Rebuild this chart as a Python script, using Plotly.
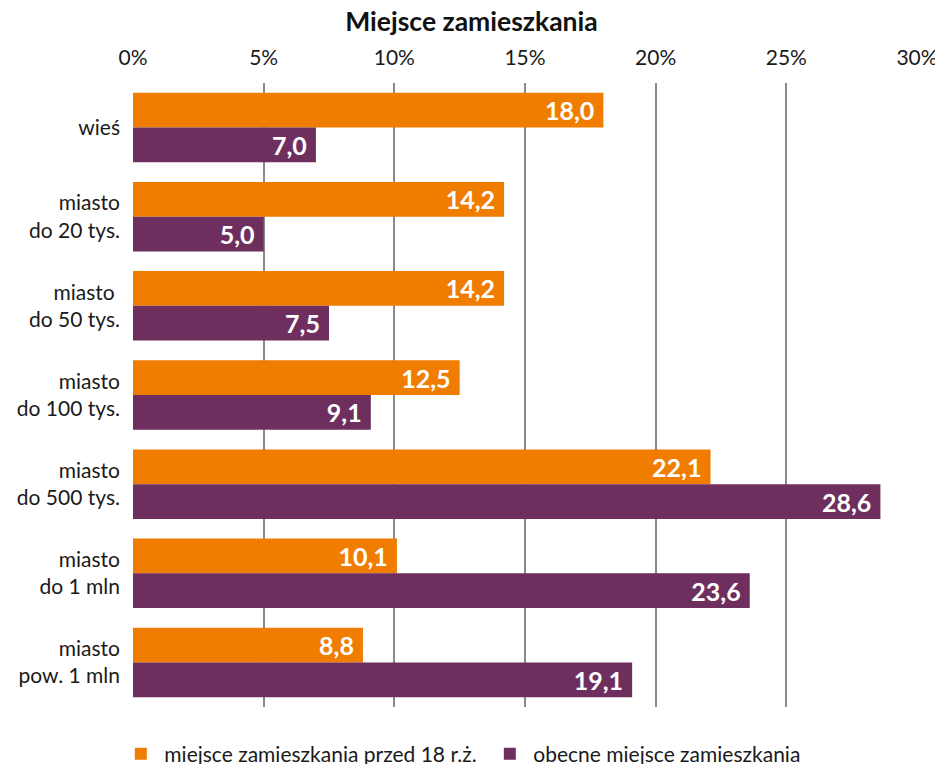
import plotly.graph_objects as go

categories = ["wieś", "miasto<br>do 20 tys.", "miasto <br>do 50 tys.", "miasto<br>do 100 tys.",
              "miasto<br>do 500 tys.", "miasto<br>do 1 mln", "miasto<br>pow. 1 mln"]
before18 = [18.0, 14.2, 14.2, 12.5, 22.1, 10.1, 8.8]
current = [7.0, 5.0, 7.5, 9.1, 28.6, 23.6, 19.1]
series_names = ["miejsce zamieszkania przed 18 r.ż.", "obecne miejsce zamieszkania"]
tick_vals = [0, 5, 10, 15, 20, 25, 30]
tick_text = ["0%", "5%", "10%", "15%", "20%", "25%", "30%"]

ORANGE = "#F07D00"
PURPLE = "#6E2F5F"
FONT = "Lato"

fig = go.Figure()
for vals, name, col in [(before18, series_names[0], ORANGE), (current, series_names[1], PURPLE)]:
    fig.add_trace(go.Bar(
        y=categories, x=vals, name=name, orientation="h",
        marker=dict(color=col, line=dict(width=0)),
        text=[f"{v:.1f}".replace(".", ",") + "&nbsp;" for v in vals],
        textposition="inside", insidetextanchor="end", textangle=0,
        constraintext="none",
        textfont=dict(family=FONT, size=25, color="white", weight="bold"),
        cliponaxis=False,
    ))

fig.update_layout(
    width=943, height=764,
    margin=dict(l=125, r=34, t=75, b=65, autoexpand=False),
    paper_bgcolor="white", plot_bgcolor="white",
    barmode="group", bargap=0.22, bargroupgap=0,
    font=dict(family=FONT, size=21, color="#1a1a1a"),
    title=dict(text="<b>Miejsce zamieszkania</b>", x=0.5 - 8 / 943, xanchor="center",
               y=1 - 14 / 764, yanchor="middle", font=dict(family=FONT, size=26.5, color="#111")),
    xaxis=dict(side="top", range=[0, 30], tickvals=tick_vals, ticktext=tick_text,
               showgrid=True, gridcolor="#8a8a8a", gridwidth=1.5, zeroline=False,
               showline=False, ticks="", ticklabelstandoff=13, automargin=False,
               tickfont=dict(family=FONT, size=21, color="#1a1a1a")),
    yaxis=dict(autorange="reversed", showgrid=False, zeroline=False, showline=False,
               ticks="", ticklabelstandoff=12, automargin=False,
               tickfont=dict(family=FONT, size=21, color="#1a1a1a")),
    legend=dict(orientation="h", x=-0.02, xanchor="left", y=-(754 - 707) / 624, yanchor="middle",
                font=dict(family=FONT, size=21, color="#1a1a1a"), traceorder="normal",
                itemwidth=37, entrywidth=317, entrywidthmode="pixels"),
    showlegend=True,
)

fig.write_html("out.html")
